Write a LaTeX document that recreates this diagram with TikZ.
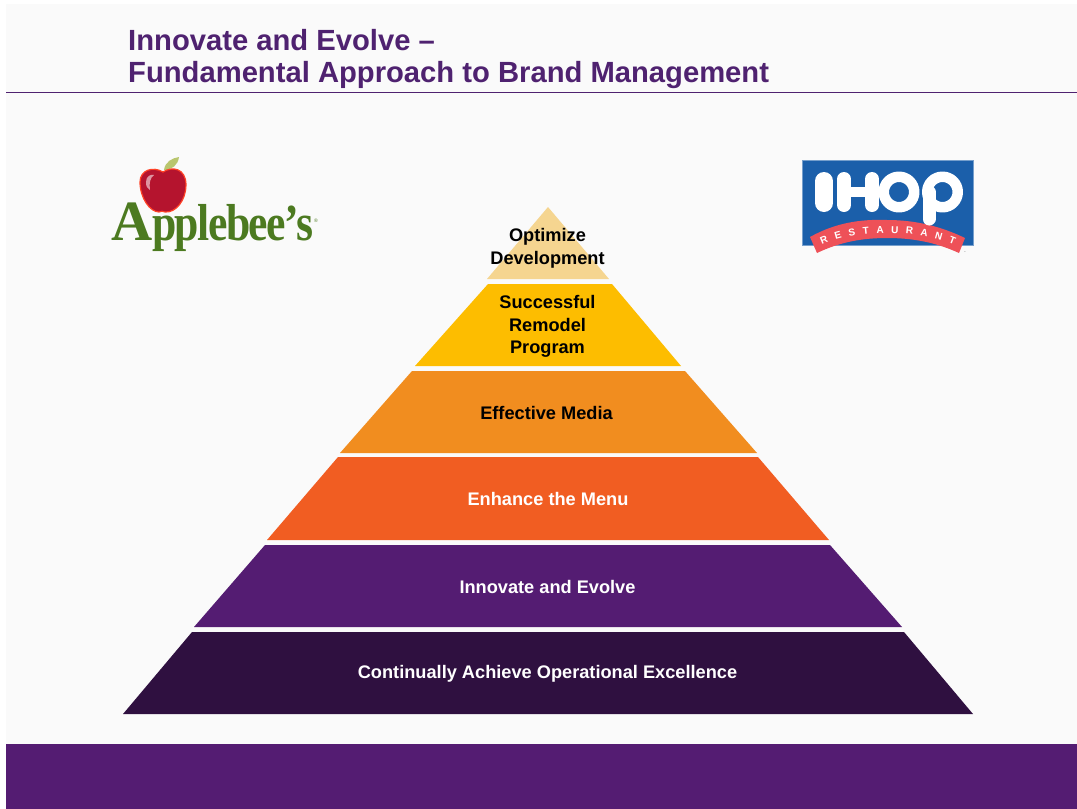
\documentclass[tikz,border=0pt]{standalone}
\usepackage{fontspec}
\setmainfont{Liberation Sans}
\newfontfamily\logoserif[LetterSpace=-3.5]{Liberation Serif}
\usetikzlibrary{decorations.text}
\definecolor{bgc}{HTML}{FAFAFA}
\definecolor{titlec}{HTML}{4F2270}
\definecolor{bandc}{HTML}{541C72}
\definecolor{layA}{HTML}{F5D590}
\definecolor{layB}{HTML}{FDBD00}
\definecolor{layC}{HTML}{F18D1F}
\definecolor{layD}{HTML}{F15D22}
\definecolor{layE}{HTML}{541C72}
\definecolor{layF}{HTML}{2F1040}
\definecolor{leafc}{HTML}{B9C66E}
\definecolor{ihopblue}{HTML}{1B5FAA}
\definecolor{ihopred}{HTML}{EE5158}
\definecolor{appleg}{HTML}{4C7A20}
\definecolor{applered}{HTML}{B5142E}
\tikzset{
  x=1pt,y=-1pt,
  layerlabel/.style={font=\bfseries\fontsize{18.2}{22.7}\selectfont,align=center,text=black,inner sep=0pt},
  layerwhite/.style={layerlabel,text=white},
  titletext/.style={font=\bfseries\fontsize{29.2}{32}\selectfont,text=titlec,align=left,anchor=base west,inner sep=0pt},
  ihopstroke/.style={draw=white,line cap=round,line join=round},
}
\begin{document}
\begin{tikzpicture}
\useasboundingbox (0,0) rectangle (1077,809);
\fill[white] (0,0) rectangle (1077,809);
\fill[bgc] (6,4) rectangle (1077,744);
\fill[bandc] (6,744) rectangle (1077,809);
\draw[titlec,line width=1.2pt] (6,92.5) -- (1077,92.5);
\node[titletext] (title1) at (128,50.5) {Innovate and Evolve --};
\node[titletext] (title2) at (128,82.5) {Fundamental Approach to Brand Management};
% pyramid
\fill[layA] (548,207) -- (609,279) -- (487,279) -- cycle;
\fill[layB] (488,284) -- (612,284) -- (681,366) -- (415,366) -- cycle;
\fill[layC] (412,371) -- (685,371) -- (757,453) -- (340,453) -- cycle;
\fill[layD] (338,457) -- (758,457) -- (829,540) -- (267,540) -- cycle;
\fill[layE] (265,545) -- (830,545) -- (902,627) -- (194,627) -- cycle;
\fill[layF] (192,632) -- (904,632) -- (973,714) -- (123,714) -- cycle;
\node[layerlabel] (l1) at (547.5,248.5) {Optimize\\Development};
\node[layerlabel] (l2) at (547.5,326.5) {Successful\\Remodel\\Program};
\node[layerlabel] (l3) at (546.5,412.5) {Effective Media};
\node[layerwhite] (l4) at (548,499) {Enhance the Menu};
\node[layerwhite] (l5) at (547.5,586.5) {Innovate and Evolve};
\node[layerwhite] (l6) at (547.5,674) {Continually Achieve Operational Excellence};
% Applebee's logo
\fill[leafc] (164,170) .. controls (165,162) and (172,158) .. (179,157) .. controls (178,165) and (172,170) .. (164,170) -- cycle;
\fill[applered,draw=red!75!orange!85!white,line width=1.2pt] (163,172) .. controls (172,166) and (186,168) .. (186,185) .. controls (186,200) and (176,213) .. (165,212) .. controls (163,211) and (161,211) .. (159,212) .. controls (150,212) and (140,198) .. (140,182) .. controls (140,170) and (153,166) .. (163,172) -- cycle;
\fill[white,opacity=.55] (146,182) .. controls (146,176) and (151,174) .. (154,175) .. controls (150,178) and (149,183) .. (150,190) .. controls (147,189) and (146,186) .. (146,182) -- cycle;
\node[font=\logoserif\bfseries\fontsize{57}{57}\selectfont,text=appleg,inner sep=0pt,anchor=base west] (apbA) at (111,240) {A};
\node[font=\logoserif\bfseries\fontsize{52}{52}\selectfont,text=appleg,xscale=.84,inner sep=0pt,anchor=base west] (apb) at (152,240) {pplebee’s};
\node[font=\fontsize{5}{5}\selectfont,text=appleg,inner sep=0pt] (apr) at (316,221) {®};
% IHOP logo
\fill[ihopblue,draw=ihopblue!60!white,line width=.8pt] (802,160) rectangle (973,245);
\draw[ihopstroke,line width=18pt] (824,181) -- (824,203);
\draw[ihopstroke,line width=14pt] (844,179) -- (844,205) (872,179) -- (872,205);
\draw[ihopstroke,line width=10pt] (844,192) -- (872,192);
\draw[ihopstroke,line width=10.5pt] (899,192) circle (15.25);
\draw[ihopstroke,line width=10.5pt] (942.5,192) circle (15.25);
\fill[ihopred] (810,237) .. controls (835,223) and (860,219) .. (887,220) .. controls (915,220) and (940,226) .. (965,238) -- (959,253) .. controls (935,242) and (912,238) .. (887,238) .. controls (862,238) and (840,242) .. (817,253) -- cycle;
\draw[ihopstroke,line width=13pt] (929,192) -- (929,219);
\path[decorate,decoration={text along path,text align=fit to path,text={|\bfseries\fontsize{10}{10}\selectfont\color{white}|RESTAURANT}}]
  (822,245) .. controls (842,236) and (865,233) .. (887,233) .. controls (910,233) and (932,236) .. (954,245);
\node[font=\fontsize{5}{5}\selectfont,text=black,inner sep=0pt] (ihr) at (965,252) {.};
\end{tikzpicture}
\end{document}
